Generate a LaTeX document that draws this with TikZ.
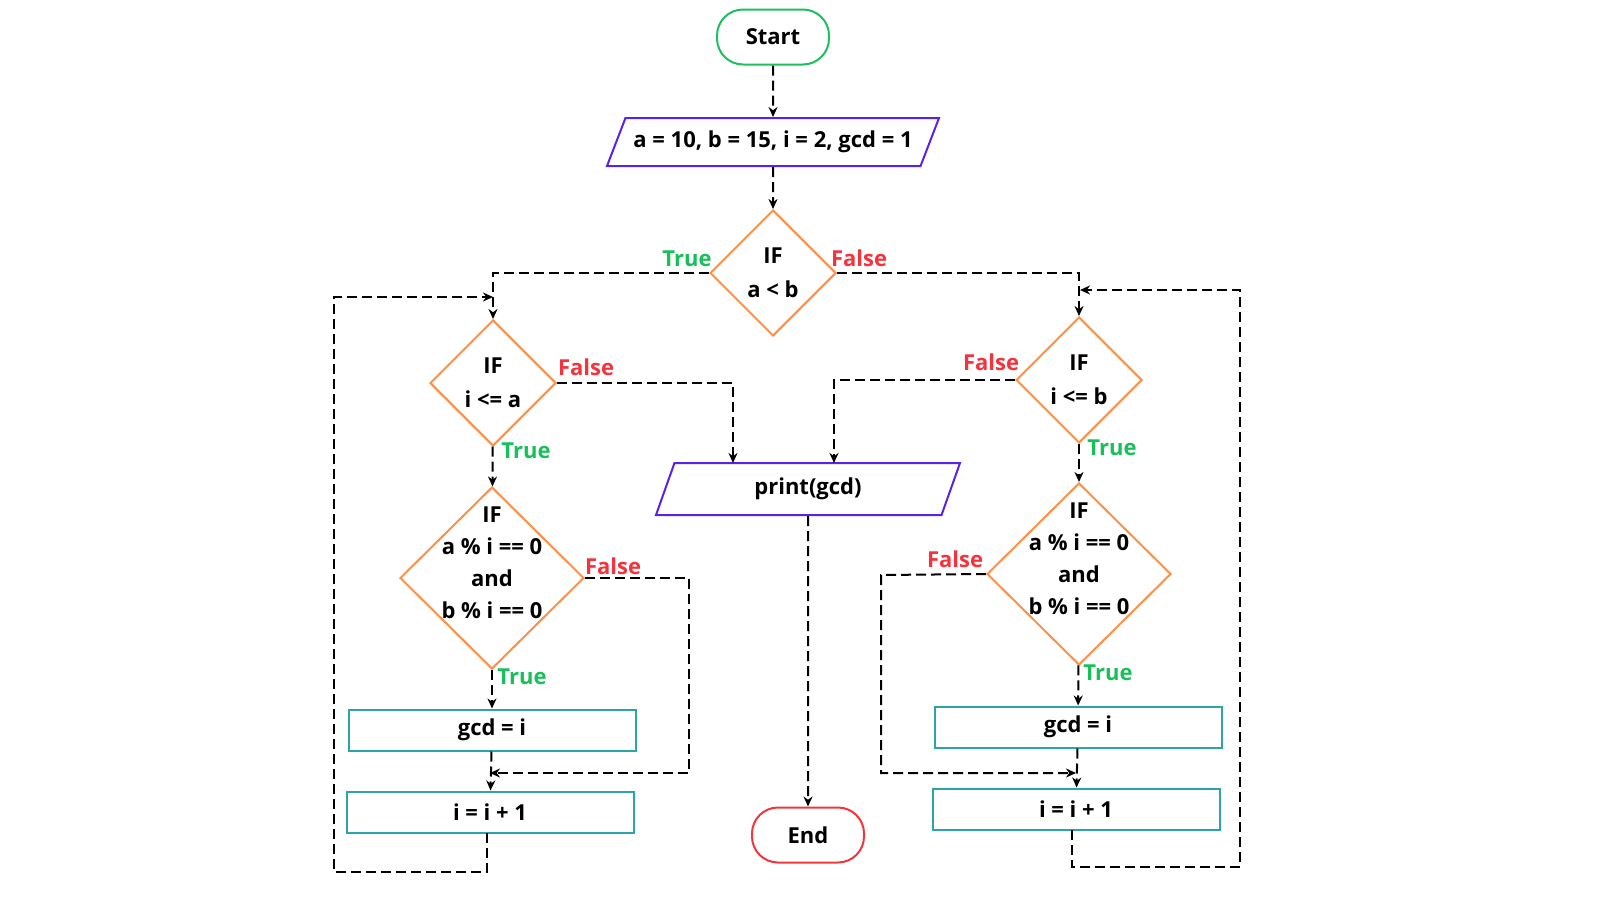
\documentclass[tikz,border=0pt]{standalone}
\usepackage{fontspec}
\setmainfont{Open Sans}
\usetikzlibrary{shapes.geometric,arrows.meta}
\definecolor{startgreen}{HTML}{1DBF5E}
\definecolor{iopurple}{HTML}{5A22E6}
\definecolor{decorange}{HTML}{FF8F45}
\definecolor{endred}{HTML}{F2353A}
\definecolor{boxteal}{HTML}{2AA6A8}
\definecolor{truegreen}{HTML}{18C05A}
\definecolor{falsered}{HTML}{F5333C}
\begin{document}
\begin{tikzpicture}[x=0.5pt, y=-0.5pt, >={Stealth[length=5pt,width=4.5pt]},
    every node/.style={font=\fontsize{11}{15}\selectfont\bfseries},
    terminal/.style={draw, line width=1pt, rounded corners=13pt, minimum width=56pt, minimum height=27.5pt},
    iobox/.style={draw=iopurple, line width=1pt, trapezium, trapezium left angle=50, trapezium right angle=130,
        trapezium stretches body, inner sep=0pt},
    decision/.style={draw=decorange, line width=1pt, diamond, inner sep=0pt, align=center},
    condtext/.style={align=center, inner sep=0pt},
    procbox/.style={draw=boxteal, line width=1pt, minimum width=143.5pt, minimum height=20.5pt, inner sep=0pt},
    flow/.style={->, dash pattern=on 5pt off 2.5pt, line width=1pt},
    yes/.style={text=truegreen},
    no/.style={text=falsered}]
    \useasboundingbox (0,0) rectangle (1600,900);

    % nodes
    \node[terminal, draw=startgreen] (start) at (773,37) {Start};
    \node[iobox, minimum width=166pt, minimum height=24pt] (input) at (773,142) {a = 10, b = 15, i = 2, gcd = 1};
    \node[decision, minimum width=63pt, minimum height=63pt] (cmp) at (773,273) {IF\\[2pt] a < b};
    \node[decision, minimum width=63pt, minimum height=63pt] (lefttest) at (493,383) {IF\\[2pt] i <= a};
    \node[decision, minimum width=63pt, minimum height=63pt] (righttest) at (1079,380) {IF\\[2pt] i <= b};
    \node[iobox, minimum width=152pt, minimum height=26pt] (print) at (808,489) {print(gcd)};
    \node[terminal, draw=endred] (end) at (808,835) {End};
    \node[decision, minimum width=92pt, minimum height=91pt] (leftmod) at (492,578) {};
    \node[condtext] (leftmodtext) at (492,563) {IF\\[1pt] a \% i == 0\\[1pt] and\\[1pt] b \% i == 0};
    \node[decision, minimum width=92pt, minimum height=91pt] (rightmod) at (1079,574) {};
    \node[condtext] (rightmodtext) at (1079,559) {IF\\[1pt] a \% i == 0\\[1pt] and\\[1pt] b \% i == 0};
    \node[procbox] (leftgcd) at (492,730) {gcd = i};
    \node[procbox] (leftinc) at (490,812) {i = i + 1};
    \node[procbox] (rightgcd) at (1078,727) {gcd = i};
    \node[procbox] (rightinc) at (1076,809) {i = i + 1};

    \coordinate (leftloop) at (493,297);
    \coordinate (rightloop) at (1080,290);
    \coordinate (leftjoin) at (490,773);
    \coordinate (rightjoin) at (1076,773);
    \coordinate (printleft) at (733,463);
    \coordinate (printright) at (834,463);

    % connectors
    \draw[flow] (start) -- (input);
    \draw[flow] (input) -- (cmp);
    \draw[flow] (cmp.west) -| (lefttest.north);
    \draw[flow] (cmp.east) -| (righttest.north);
    \draw[flow] (lefttest.east) -| (printleft);
    \draw[flow] (righttest.west) -| (printright);
    \draw[flow] (lefttest) -- (leftmod);
    \draw[flow] (righttest) -- (rightmod);
    \draw[flow] (leftmod) -- (leftgcd);
    \draw[flow] (rightmod) -- (rightgcd);
    \draw[flow] (leftgcd) -- (leftinc);
    \draw[flow] (rightgcd) -- (rightinc);
    \draw[flow] (leftmod.east) -- (689,578) |- (leftjoin);
    \draw[flow] (rightmod.west) -- (881,575) |- (rightjoin);
    \draw[flow] (487,833) -- (487,872) -- (334,872) |- (leftloop);
    \draw[flow] (1072,830) -- (1072,867) -- (1240,867) |- (rightloop);
    \draw[flow] (print) -- (end);

    % labels
    \node[yes] at (687,259) {True};
    \node[no] at (859,258) {False};
    \node[no] at (586,367) {False};
    \node[yes] at (526,451) {True};
    \node[no] at (991,362) {False};
    \node[yes] at (1112,448) {True};
    \node[no] at (613,566) {False};
    \node[yes] at (522,677) {True};
    \node[no] at (955,559) {False};
    \node[yes] at (1108,673) {True};
\end{tikzpicture}
\end{document}
